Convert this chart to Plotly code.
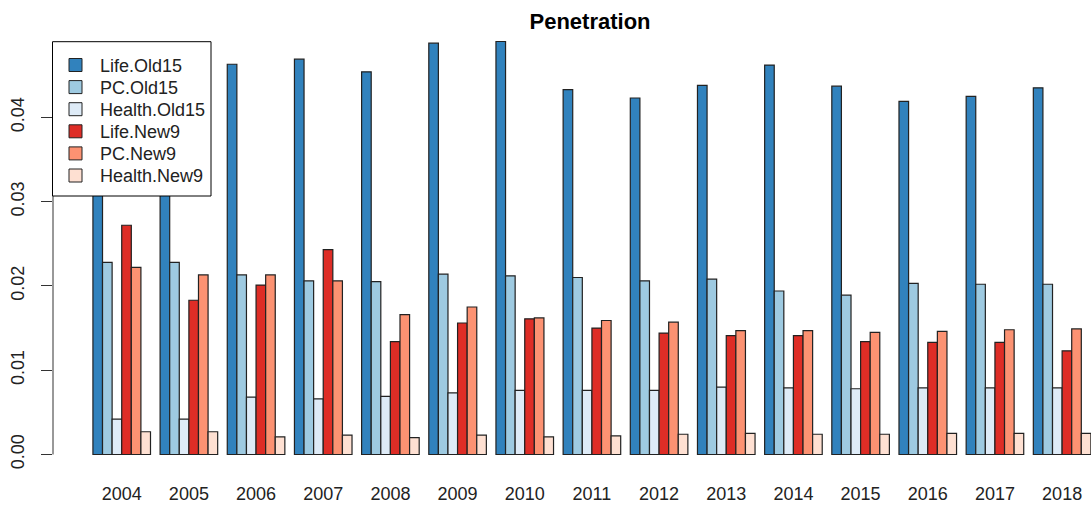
import plotly.graph_objects as go

years = [str(y) for y in range(2004, 2019)]

life_old15 = [0.0393, 0.0468, 0.0463, 0.0469, 0.0454, 0.0488, 0.0490, 0.0433,
              0.0423, 0.0438, 0.0462, 0.0437, 0.0419, 0.0425, 0.0435]
pc_old15 = [0.0228, 0.0228, 0.0213, 0.0206, 0.0205, 0.0214, 0.0212, 0.0210,
            0.0206, 0.0208, 0.0194, 0.0189, 0.0203, 0.0202, 0.0202]
health_old15 = [0.0042, 0.0042, 0.0068, 0.0066, 0.0069, 0.0073, 0.0076, 0.0076,
                0.0076, 0.0080, 0.0079, 0.0078, 0.0079, 0.0079, 0.0079]
life_new9 = [0.0272, 0.0183, 0.0201, 0.0243, 0.0134, 0.0156, 0.0161, 0.0150,
             0.0144, 0.0141, 0.0141, 0.0134, 0.0133, 0.0133, 0.0123]
pc_new9 = [0.0222, 0.0213, 0.0213, 0.0206, 0.0166, 0.0175, 0.0162, 0.0159,
           0.0157, 0.0147, 0.0147, 0.0145, 0.0146, 0.0148, 0.0149]
health_new9 = [0.0027, 0.0027, 0.0021, 0.0023, 0.0020, 0.0023, 0.0021, 0.0022,
               0.0024, 0.0025, 0.0024, 0.0024, 0.0025, 0.0025, 0.0025]

series_names = ["Life.Old15", "PC.Old15", "Health.Old15",
                "Life.New9", "PC.New9", "Health.New9"]
series_vals = [life_old15, pc_old15, health_old15, life_new9, pc_new9, health_new9]
colors = ["#3182BD", "#9ECAE1", "#DEEBF7", "#DE2D26", "#FC9272", "#FEE0D2"]

y_ticks = [0.0, 0.01, 0.02, 0.03, 0.04]
y_ticktext = ["0.00", "0.01", "0.02", "0.03", "0.04"]

font_family = "Liberation Sans, Arial, sans-serif"
W, H = 1091, 507
ML, MR, MT, MB = 53, 0, 25, 36
PW, PH = W - ML - MR, H - MT - MB


def px_x(x):
    # pixel column -> paper x
    return (x - ML) / PW


def px_y(y):
    # pixel row -> paper y
    return 1 - (y - MT) / PH


fig = go.Figure()
for name, vals, col in zip(series_names, series_vals, colors):
    fig.add_trace(go.Bar(
        x=years, y=vals, name=name, showlegend=False,
        marker=dict(color=col, line=dict(color="#222222", width=1.2)),
    ))

# R-style y axis line spanning only the tick range
fig.add_shape(
    type="line", xref="paper", yref="y",
    x0=0, x1=0, y0=0, y1=0.04,
    line=dict(color="#333333", width=1),
)

# legend box drawn R-style (tight rows)
fig.add_shape(
    type="rect", xref="paper", yref="paper", layer="above",
    x0=px_x(52.5), x1=px_x(211), y0=px_y(196), y1=px_y(41.7),
    fillcolor="white", line=dict(color="black", width=1),
)
row_step = 22.1
for i, (name, col) in enumerate(zip(series_names, colors)):
    yc = 65 + i * row_step
    fig.add_shape(
        type="rect", xref="paper", yref="paper", layer="above",
        x0=px_x(69), x1=px_x(82), y0=px_y(yc + 6.5), y1=px_y(yc - 6.5),
        fillcolor=col, line=dict(color="#222222", width=1),
    )
    fig.add_annotation(
        xref="paper", yref="paper", x=px_x(98), y=px_y(yc + 0.5),
        xanchor="left", yanchor="middle", showarrow=False,
        text=name, font=dict(size=18, color="#222222"),
    )

fig.update_layout(
    width=W, height=H,
    barmode="group", bargap=1 / 7, bargroupgap=0,
    plot_bgcolor="white", paper_bgcolor="white",
    font=dict(family=font_family, size=18, color="#222222"),
    title=dict(
        text="<b>Penetration</b>", x=590 / W, xanchor="center",
        y=1 - 21 / H, yanchor="middle",
        font=dict(size=22, color="black"),
    ),
    margin=dict(l=ML, r=MR, t=MT, b=MB),
    xaxis=dict(
        type="category", range=[-1.023, 14.43],
        showgrid=False, showline=False, ticks="", zeroline=False,
        tickfont=dict(size=18), ticklabelstandoff=10,
    ),
    yaxis=dict(
        range=[-0.00196, 0.05096],
        tickvals=y_ticks, ticktext=y_ticktext,
        tickangle=-90, ticks="outside", ticklen=11, tickwidth=1,
        tickcolor="#333333", ticklabelstandoff=10,
        showgrid=False, showline=False, zeroline=False,
        tickfont=dict(size=18),
    ),
    showlegend=False,
)

fig.write_html(
    "out.html",
    config={"displayModeBar": False},
    post_script="document.body.style.margin='0';document.body.style.overflow='hidden';",
)
